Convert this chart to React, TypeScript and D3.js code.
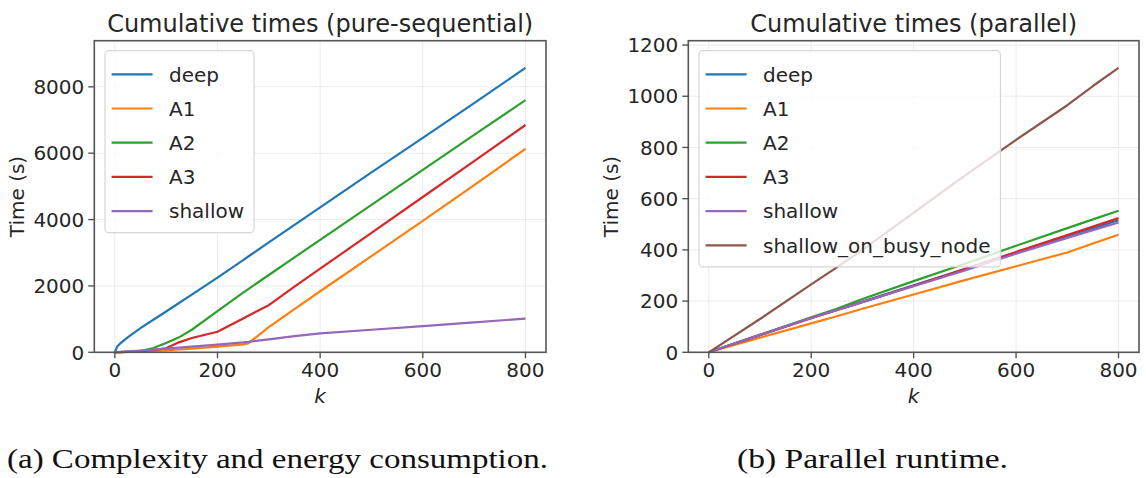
import * as d3 from "d3";

// ── Data ──────────────────────────────────────────────────────────────────────

const SERIES_NAMES = ["deep", "A1", "A2", "A3", "shallow", "shallow_on_busy_node"];

// pure-sequential run, cumulative seconds per k
const K_SEQ = [0, 5, 10, 25, 50, 75, 100, 125, 150, 200, 250, 260, 300, 350, 400, 500, 600, 700, 800];
const DEEP_SEQ = [0, 180, 260, 450, 730, 980, 1230, 1485, 1740, 2250, 2780, 2886, 3310, 3840, 4370, 5420, 6460, 7510, 8570];
const A1_SEQ = [0, 2, 4, 10, 20, 40, 60, 85, 110, 170, 240, 270, 760, 1300, 1840, 2900, 3960, 5040, 6130];
const A2_SEQ = [0, 3, 6, 15, 40, 130, 280, 450, 680, 1240, 1800, 1905, 2330, 2860, 3390, 4440, 5500, 6550, 7600];
const A3_SEQ = [0, 2, 5, 12, 30, 70, 120, 300, 430, 620, 1020, 1100, 1420, 1980, 2520, 3600, 4680, 5760, 6850];
const SHALLOW_SEQ = [0, 5, 10, 25, 50, 80, 110, 140, 170, 230, 300, 315, 390, 490, 570, 680, 790, 900, 1015];

// parallel run
const K_PAR = [0, 100, 200, 250, 300, 400, 500, 600, 700, 750, 800];
const DEEP_PAR = [0, 68, 135, 166, 198, 262, 325, 390, 452, 484, 516];
const A1_PAR = [0, 57, 113, 141, 170, 226, 282, 336, 390, 425, 459];
const A2_PAR = [0, 68, 137, 170, 208, 278, 346, 416, 485, 519, 553];
const A3_PAR = [0, 67, 133, 164, 196, 260, 325, 392, 458, 491, 524];
const SHALLOW_PAR = [0, 68, 134, 165, 196, 258, 320, 385, 447, 477, 507];
const BUSY_PAR = [0, 130, 265, 332, 400, 545, 690, 830, 965, 1040, 1111];

const X_TICKS = [0, 200, 400, 600, 800];
const Y_TICKS_SEQ = [0, 2000, 4000, 6000, 8000];
const Y_TICKS_PAR = [0, 200, 400, 600, 800, 1000, 1200];

const COLORS = d3.schemeTableau10.length ? ["#1f77b4", "#ff7f0e", "#2ca02c", "#d62728", "#9467bd", "#8c564b"] : [];

// ── Layout ────────────────────────────────────────────────────────────────────

const FONT = "DejaVu Sans, Verdana, sans-serif";
const TEXT = "#262626";
const W = 1146;
const H = 478;

interface Series {
  name: string;
  color: string;
  values: number[];
}

interface PanelProps {
  x0: number;
  y0: number;
  w: number;
  h: number;
  title: string;
  k: number[];
  series: Series[];
  yMax: number;
  yTicks: number[];
  ylabelX: number;
}

function measure(text: string, size: number) {
  const ctx = document.createElement("canvas").getContext("2d");
  if (!ctx) return text.length * size * 0.6;
  ctx.font = `${size}px DejaVu Sans`;
  return ctx.measureText(text).width;
}

function Panel({ x0, y0, w, h, title, k, series, yMax, yTicks, ylabelX }: PanelProps) {
  const x = d3.scaleLinear().domain([-40, 840]).range([x0, x0 + w]);
  const y = d3.scaleLinear().domain([0, yMax]).range([y0 + h, y0]);
  const line = d3
    .line<number>()
    .x((_d, i) => x(k[i]))
    .y((d) => y(d));

  const rowH = 34.2;
  const legW = 64 + d3.max(series, (s) => measure(s.name, 20))! + 10;
  const legH = 11 + series.length * rowH;
  const legX = x0 + 10.7;
  const legY = y0 + 10;

  return (
    <g>
      {/* grid */}
      {X_TICKS.map((t) => (
        <line key={`gx${t}`} x1={x(t)} x2={x(t)} y1={y0} y2={y0 + h} stroke="#ebebeb" strokeWidth={1} />
      ))}
      {yTicks.map((t) => (
        <line key={`gy${t}`} x1={x0} x2={x0 + w} y1={y(t)} y2={y(t)} stroke="#ebebeb" strokeWidth={1} />
      ))}

      {/* series */}
      {series.map((s) => (
        <path key={s.name} d={line(s.values) ?? ""} fill="none" stroke={s.color} strokeWidth={2.2} strokeLinejoin="round" />
      ))}

      {/* frame */}
      <rect x={x0} y={y0} width={w} height={h} fill="none" stroke="#555" strokeWidth={1.6} />

      {/* x ticks */}
      {X_TICKS.map((t) => (
        <g key={`tx${t}`}>
          <line x1={x(t)} x2={x(t)} y1={y0 + h} y2={y0 + h + 6} stroke="#555" strokeWidth={1.4} />
          <text x={x(t)} y={y0 + h + 25} textAnchor="middle" fontSize={20} fill={TEXT} fontFamily={FONT}>
            {t}
          </text>
        </g>
      ))}

      {/* y ticks */}
      {yTicks.map((t) => (
        <g key={`ty${t}`}>
          <line x1={x0 - 6} x2={x0} y1={y(t)} y2={y(t)} stroke="#555" strokeWidth={1.4} />
          <text x={x0 - 10} y={y(t)} dy="0.36em" textAnchor="end" fontSize={20} fill={TEXT} fontFamily={FONT}>
            {t}
          </text>
        </g>
      ))}

      {/* labels */}
      <text x={x0 + w / 2} y={y0 - 9} textAnchor="middle" fontSize={24} fill={TEXT} fontFamily={FONT}>
        {title}
      </text>
      <text
        x={(x(0) + x(800)) / 2}
        y={y0 + h + 51}
        textAnchor="middle"
        fontSize={20}
        fontStyle="italic"
        fill={TEXT}
        fontFamily={FONT}
      >
        k
      </text>
      <text
        transform={`translate(${ylabelX},${y0 + h / 2}) rotate(-90)`}
        textAnchor="middle"
        fontSize={20}
        fill={TEXT}
        fontFamily={FONT}
      >
        Time (s)
      </text>

      {/* legend */}
      <rect x={legX} y={legY} width={legW} height={legH} rx={4} fill="#fff" fillOpacity={0.8} stroke="#d6d6d6" strokeWidth={1.2} />
      {series.map((s, i) => {
        const cy = legY + 6.5 + rowH / 2 + i * rowH;
        return (
          <g key={`lg${s.name}`}>
            <line x1={legX + 6.6} x2={legX + 47.6} y1={cy} y2={cy} stroke={s.color} strokeWidth={2.2} />
            <text x={legX + 64} y={cy} dy="0.36em" fontSize={20} fill={TEXT} fontFamily={FONT}>
              {s.name}
            </text>
          </g>
        );
      })}
    </g>
  );
}

export default function App() {
  const seqValues = [DEEP_SEQ, A1_SEQ, A2_SEQ, A3_SEQ, SHALLOW_SEQ];
  const parValues = [DEEP_PAR, A1_PAR, A2_PAR, A3_PAR, SHALLOW_PAR, BUSY_PAR];
  const seqSeries = seqValues.map((v, i) => ({ name: SERIES_NAMES[i], color: COLORS[i], values: v }));
  const parSeries = parValues.map((v, i) => ({ name: SERIES_NAMES[i], color: COLORS[i], values: v }));

  return (
    <svg
      width={W}
      height={H}
      style={{ position: "absolute", left: 0, top: 0, background: "#fff" }}
    >
      <Panel
        x0={94.3}
        y0={40.7}
        w={451.7}
        h={311.6}
        title="Cumulative times (pure-sequential)"
        k={K_SEQ}
        series={seqSeries}
        yMax={9390}
        yTicks={Y_TICKS_SEQ}
        ylabelX={24}
      />
      <Panel
        x0={688.3}
        y0={40.7}
        w={450.7}
        h={311.6}
        title="Cumulative times (parallel)"
        k={K_PAR}
        series={parSeries}
        yMax={1217}
        yTicks={Y_TICKS_PAR}
        ylabelX={618}
      />
      <text
        x={7}
        y={468}
        fontSize={27}
        fill="#111"
        fontFamily="Liberation Serif, serif"
        textLength={541}
        lengthAdjust="spacingAndGlyphs"
      >
        (a) Complexity and energy consumption.
      </text>
      <text
        x={737}
        y={468}
        fontSize={27}
        fill="#111"
        fontFamily="Liberation Serif, serif"
        textLength={271}
        lengthAdjust="spacingAndGlyphs"
      >
        (b) Parallel runtime.
      </text>
    </svg>
  );
}
